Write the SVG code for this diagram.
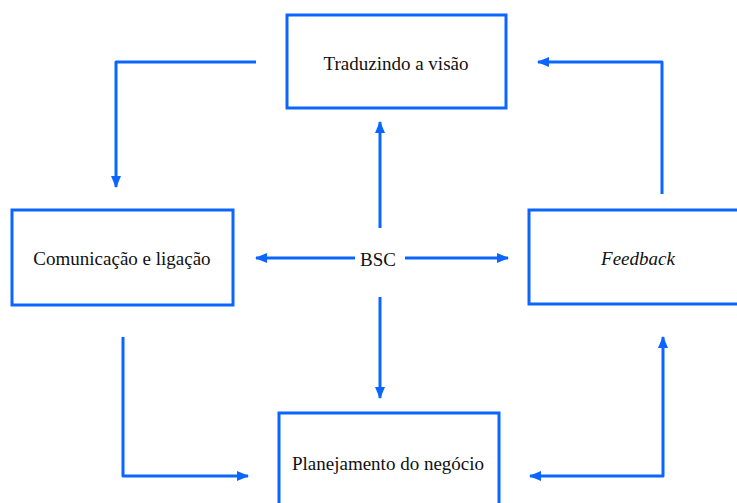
<svg xmlns="http://www.w3.org/2000/svg" width="737" height="503" viewBox="0 0 737 503">
<defs>
<style>
.box{fill:#fff;stroke:#0a66ff;stroke-width:3}
.ln{fill:none;stroke:#0a66ff;stroke-width:3;stroke-linejoin:round}
.t{font-family:"Liberation Serif","Times New Roman",serif;font-size:19px;fill:#111;text-anchor:middle}
</style>
<marker id="ah" markerUnits="userSpaceOnUse" markerWidth="12" markerHeight="12" viewBox="0 0 12 12" refX="11" refY="6" orient="auto-start-reverse">
<path d="M0,1 L12,6 L0,11 z" fill="#0a66ff"/>
</marker>
</defs>
<rect width="737" height="503" fill="#fff"/>
<g id="connectors">
<path class="ln" d="M380,228 V122" marker-end="url(#ah)"/>
<path class="ln" d="M380,297 V398" marker-end="url(#ah)"/>
<path class="ln" d="M355,258 H256" marker-end="url(#ah)"/>
<path class="ln" d="M405,258 H508" marker-end="url(#ah)"/>
<path class="ln" d="M256,62 H116 V187" marker-end="url(#ah)"/>
<path class="ln" d="M662,194 V62 H538" marker-end="url(#ah)"/>
<path class="ln" d="M123,337 V476 H248" marker-end="url(#ah)"/>
<path class="ln" d="M663,337 V476 H530" marker-start="url(#ah)" marker-end="url(#ah)"/>
</g>
<g id="traduzindo">
<rect class="box" x="287" y="15" width="219" height="93"/>
<text class="t" x="396" y="70">Traduzindo a visão</text>
</g>
<g id="comunicacao">
<rect class="box" x="12" y="210" width="221" height="95"/>
<text class="t" x="122" y="265">Comunicação e ligação</text>
</g>
<g id="feedback">
<rect class="box" x="529" y="210" width="215" height="94"/>
<text class="t" x="638" y="265" font-style="italic">Feedback</text>
</g>
<g id="planejamento">
<rect class="box" x="279" y="413" width="220" height="100"/>
<text class="t" x="388" y="470">Planejamento do negócio</text>
</g>
<g id="bsc">
<text class="t" x="378" y="266">BSC</text>
</g>
</svg>
